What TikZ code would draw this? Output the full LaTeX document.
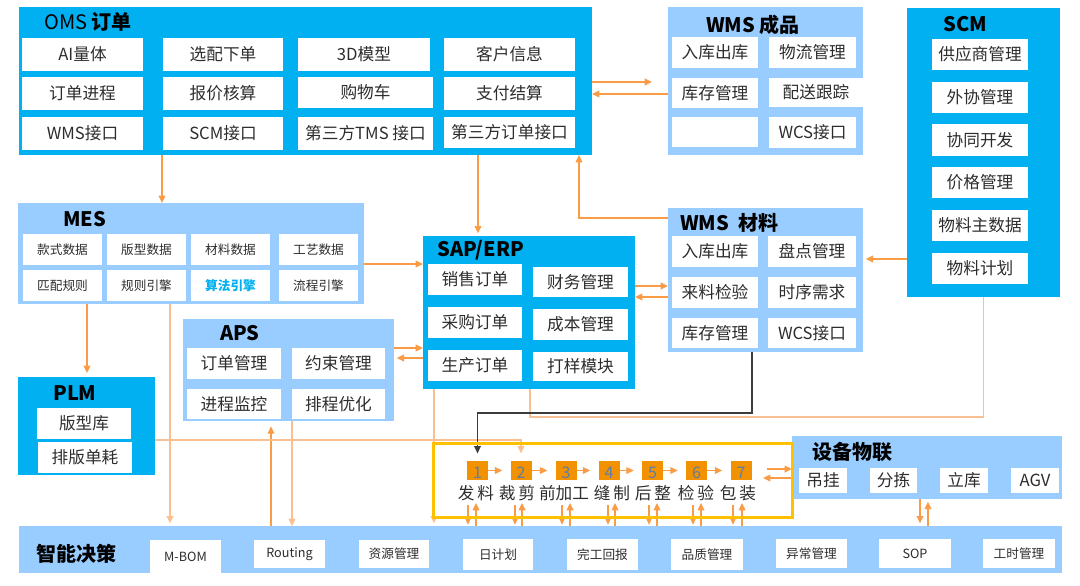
\documentclass[tikz,border=0pt]{standalone}
\usepackage{fontspec}
\setmainfont{Noto Sans CJK SC}
\usetikzlibrary{fit,arrows.meta}
\definecolor{dblue}{RGB}{0,176,240}
\definecolor{lblue}{RGB}{153,204,255}
\definecolor{conn}{RGB}{250,155,70}
\definecolor{connl}{RGB}{251,192,145}
\definecolor{sqc}{RGB}{243,146,0}
\definecolor{ylw}{RGB}{255,192,0}
\definecolor{txt}{RGB}{45,45,45}
\definecolor{numc}{RGB}{95,125,165}
\definecolor{blk}{RGB}{60,60,60}
% cell: #1 name, #2 fit points, #3 text style, #4 text
\newcommand\mkcell[4]{\node[cellbg,fit={#2}] (#1) {};\node[#3] at (#1.center) {#4};}
\begin{document}
\begin{tikzpicture}[x=0.75pt,y=-0.75pt,
  box/.style={inner sep=0pt,outer sep=0pt,draw=none},
  dbox/.style={box,fill=dblue},
  lbox/.style={box,fill=lblue},
  cellbg/.style={box,fill=white},
  ct/.style={inner sep=0pt,text=txt,font=\fontsize{12.5}{14}\selectfont},
  sct/.style={inner sep=0pt,text=txt,font=\fontsize{9.5}{11}\selectfont},
  bct/.style={inner sep=0pt,text=dblue,font=\fontsize{9.5}{11}\selectfont\bfseries},
  ttl/.style={anchor=west,inner sep=0pt,text=black,font=\fontsize{15}{17}\selectfont\bfseries},
  arr/.style={draw=conn,line width=1pt,-{Triangle[length=5.5pt,width=5pt]}},
  arrl/.style={draw=connl,line width=1pt,-{Triangle[length=5.5pt,width=5pt]}},
  lnl/.style={draw=connl,line width=1pt},
  blkarr/.style={draw=blk,line width=1pt,-{Triangle[length=5.5pt,width=5pt]}},
  sqr/.style={fill=sqc,inner sep=0pt,minimum width=15.75pt,minimum height=14.25pt},
  numtxt/.style={inner sep=0pt,text=numc,font=\fontsize{12}{13}\selectfont},
  lbl/.style={inner sep=0pt,text=txt,font=\fontsize{12.5}{14}\selectfont},
]
\useasboundingbox (0,0) rectangle (1080,585);

% ---------- guide coordinates for connectors ----------
\coordinate (g1) at (162,0);
\coordinate (g2) at (478,0);
\coordinate (g3) at (579,218);
\coordinate (g4) at (0,82);
\coordinate (g5) at (0,94);
\coordinate (g6) at (0,264);
\coordinate (g7) at (0,259);
\coordinate (g8) at (0,286);
\coordinate (g9) at (0,297);
\coordinate (g10) at (0,348);
\coordinate (g11) at (0,358);
\coordinate (g12) at (87,0);
\coordinate (g13) at (170,0);
\coordinate (g14) at (271,0);
\coordinate (g15) at (292,0);
\coordinate (g16) at (0,440);
\coordinate (g17) at (434,0);
\coordinate (g18) at (530,417);
\coordinate (g19) at (752,413);
\coordinate (g20) at (920,0);
\coordinate (g21) at (928,0);
\coordinate (g22) at (767,469);
\coordinate (g23) at (763,478);

% ---------- OMS ----------
\node[dbox,fit={(19,7)(592,155)}] (oms) {};
\node[ttl,font=\fontsize{15}{17}\selectfont] at (44,22) {OMS \textbf{订单}};
\mkcell{o11}{(22,38)(143,71)}{ct}{AI量体}
\mkcell{o12}{(163,38)(283,71)}{ct}{选配下单}
\mkcell{o13}{(298,38)(430,71)}{ct}{3D模型}
\mkcell{o14}{(444,38)(575,71)}{ct}{客户信息}
\mkcell{o21}{(22,77)(143,110)}{ct}{订单进程}
\mkcell{o22}{(163,77)(283,110)}{ct}{报价核算}
\mkcell{o23}{(298,77)(433,108)}{ct}{购物车}
\mkcell{o24}{(444,77)(575,110)}{ct}{支付结算}
\mkcell{o31}{(22,117)(143,150)}{ct}{WMS接口}
\mkcell{o32}{(163,117)(283,150)}{ct}{SCM接口}
\mkcell{o33}{(298,117)(433,150)}{ct}{第三方TMS 接口}
\mkcell{o34}{(444,117)(575,148)}{ct}{第三方订单接口}

% ---------- WMS 成品 ----------
\node[lbox,fit={(668,7)(863,155)}] (wmsp) {};
\node[ttl] at (706,25) {WMS 成品};
\mkcell{p11}{(672,37)(758,68)}{ct}{入库出库}
\mkcell{p12}{(769,37)(856,68)}{ct}{物流管理}
\mkcell{p21}{(672,78)(758,108)}{ct}{库存管理}
\mkcell{p22}{(769,78)(863,107)}{ct}{配送跟踪}
\mkcell{p31}{(672,117)(758,147)}{ct}{}
\mkcell{p32}{(769,117)(856,148)}{ct}{WCS接口}

% ---------- SCM ----------
\node[dbox,fit={(907,8)(1060,297)}] (scm) {};
\node[ttl] at (943,24) {SCM};
\mkcell{sc1}{(932,39)(1028,70)}{ct}{供应商管理}
\mkcell{sc2}{(932,82)(1028,113)}{ct}{外协管理}
\mkcell{sc3}{(932,124)(1028,156)}{ct}{协同开发}
\mkcell{sc4}{(932,167)(1028,198)}{ct}{价格管理}
\mkcell{sc5}{(932,210)(1028,241)}{ct}{物料主数据}
\mkcell{sc6}{(932,253)(1028,284)}{ct}{物料计划}

% ---------- MES ----------
\node[lbox,fit={(18,203)(364,304)}] (mes) {};
\node[ttl] at (63,219) {MES};
\mkcell{m11}{(23,234)(102,265)}{sct}{款式数据}
\mkcell{m12}{(107,234)(186,265)}{sct}{版型数据}
\mkcell{m13}{(191,234)(270,265)}{sct}{材料数据}
\mkcell{m14}{(279,234)(358,265)}{sct}{工艺数据}
\mkcell{m21}{(23,270)(102,301)}{sct}{匹配规则}
\mkcell{m22}{(107,270)(186,301)}{sct}{规则引擎}
\mkcell{m23}{(191,270)(270,301)}{bct}{算法引擎}
\mkcell{m24}{(279,270)(358,301)}{sct}{流程引擎}

% ---------- APS ----------
\node[lbox,fit={(183,319)(394,421)}] (aps) {};
\node[ttl] at (220,333) {APS};
\mkcell{a11}{(187,348)(281,379)}{ct}{订单管理}
\mkcell{a12}{(292,348)(385,379)}{ct}{约束管理}
\mkcell{a21}{(187,389)(281,419)}{ct}{进程监控}
\mkcell{a22}{(292,389)(385,419)}{ct}{排程优化}

% ---------- PLM ----------
\node[dbox,fit={(18,377)(155,475)}] (plm) {};
\node[ttl] at (53,393) {PLM};
\mkcell{pl1}{(37,408)(131,439)}{ct}{版型库}
\mkcell{pl2}{(38,442)(132,473)}{ct}{排版单耗}

% ---------- SAP/ERP ----------
\node[dbox,fit={(423,236)(635,389)}] (sap) {};
\node[ttl] at (437,250) {SAP/ERP};
\mkcell{e11}{(428,264)(522,295)}{ct}{销售订单}
\mkcell{e12}{(533,267)(628,297)}{ct}{财务管理}
\mkcell{e21}{(428,307)(522,338)}{ct}{采购订单}
\mkcell{e22}{(533,309)(628,340)}{ct}{成本管理}
\mkcell{e31}{(428,350)(522,381)}{ct}{生产订单}
\mkcell{e32}{(533,352)(628,381)}{ct}{打样模块}

% ---------- WMS 材料 ----------
\node[lbox,fit={(668,208)(863,352)}] (wmsm) {};
\node[ttl] at (680,223) {WMS\ \ 材料};
\mkcell{w11}{(672,236)(758,267)}{ct}{入库出库}
\mkcell{w12}{(768,236)(856,267)}{ct}{盘点管理}
\mkcell{w21}{(672,277)(758,308)}{ct}{来料检验}
\mkcell{w22}{(768,277)(856,308)}{ct}{时序需求}
\mkcell{w31}{(672,318)(758,348)}{ct}{库存管理}
\mkcell{w32}{(768,318)(856,348)}{ct}{WCS接口}

% ---------- 设备物联 ----------
\node[lbox,fit={(792,436)(1062,499)}] (iot) {};
\node[ttl] at (812,452) {设备物联};
\mkcell{i1}{(799,468)(847,493)}{ct}{吊挂}
\mkcell{i2}{(870,468)(917,493)}{ct}{分拣}
\mkcell{i3}{(940,468)(988,493)}{ct}{立库}
\mkcell{i4}{(1011,468)(1059,493)}{ct}{AGV}

% ---------- 智能决策 ----------
\node[lbox,fit={(19,526)(1062,573)}] (zn) {};
\node[ttl,font=\fontsize{15}{17}\selectfont\bfseries] at (36,554) {智能决策};
\mkcell{z1}{(150,540)(221,573)}{sct}{M-BOM}
\mkcell{z2}{(254,540)(325,568)}{sct}{Routing}
\mkcell{z3}{(359,540)(429,568)}{sct}{资源管理}
\mkcell{z4}{(463,539)(533,570)}{sct}{日计划}
\mkcell{z5}{(567,539)(638,570)}{sct}{完工回报}
\mkcell{z6}{(671,539)(743,570)}{sct}{品质管理}
\mkcell{z7}{(776,539)(847,568)}{sct}{异常管理}
\mkcell{z8}{(879,539)(951,568)}{sct}{SOP}
\mkcell{z9}{(983,539)(1055,568)}{sct}{工时管理}

% ---------- production steps ----------
\node[sqr] (s1) at (477.5,470.5) {};
\node[sqr] (s2) at (521,470.5) {};
\node[sqr] (s3) at (566,470.5) {};
\node[sqr] (s4) at (609,470.5) {};
\node[sqr] (s5) at (652.5,470.5) {};
\node[sqr] (s6) at (696.5,470.5) {};
\node[sqr] (s7) at (741,470.5) {};
\foreach \i in {1,...,7} {
  \node[numtxt,anchor=base] at ([yshift=1pt]s\i.south) {\i};
}
\node[lbl] (l1) at (476,493) {发\,料};
\node[lbl] (l2) at (517,493) {裁\,剪};
\node[lbl] (l3) at (564,493) {前加工};
\node[lbl] (l4) at (612,493) {缝\,制};
\node[lbl] (l5) at (653,493) {后\,整};
\node[lbl] (l6) at (696,493) {检\,验};
\node[lbl] (l7) at (738,493) {包\,装};
\foreach \a/\b in {1/2,2/3,3/4,4/5,5/6,6/7} {
  \draw[arr,shorten >=6pt] (s\a.east) -- (s\b.west);
}

% ---------- connectors ----------
\draw[arr] (oms.south -| g1) -- (mes.north -| g1);
\draw[arr,shorten >=2pt] (oms.south -| g2) -- (sap.north -| g2);
\draw[arr] (wmsm.west |- g3) -| (oms.south -| g3);
\draw[arr,shorten >=12pt] (oms.east |- g4) -- (wmsp.west |- g4);
\draw[arr] (wmsp.west |- g5) -- (oms.east |- g5);
\draw[arr] (mes.east |- g6) -- (sap.west |- g6);
\draw[arr,shorten >=2pt] (scm.west |- g7) -- (wmsm.east |- g7);
\draw[arr] (sap.east |- g8) -- (wmsm.west |- g8);
\draw[arr] (wmsm.west |- g9) -- (sap.east |- g9);
\draw[arr] (aps.east |- g10) -- (sap.west |- g10);
\draw[arr,shorten >=2pt] (sap.west |- g11) -- (aps.east |- g11);
\draw[arr,shorten >=3pt] (mes.south -| g12) -- (plm.north -| g12);
\draw[arrl,shorten >=2pt] (mes.south -| g13) -- (zn.north -| g13);
\draw[arr,shorten >=4pt] (zn.north -| g14) -- (aps.south -| g14);
\draw[arrl] (aps.south -| g15) -- (zn.north -| g15);
\draw[arrl,shorten >=5.5pt] (plm.east |- g16) -| (s2.north);
\draw[arrl,shorten >=2pt] (sap.south -| g17) -- (zn.north -| g17);
\draw[lnl] (sap.south -| g18) -- (g18) -| (scm.south);
\draw[blkarr,shorten >=5.5pt] (wmsm.south -| g19) -- (g19) -| (s1.north);
\draw[arr,shorten >=2pt] (iot.south -| g20) -- (zn.north -| g20);
\draw[arr,shorten >=2pt] (zn.north -| g21) -- (iot.south -| g21);
\draw[arr] (g22) -- (iot.west |- g22);
\draw[arr] (iot.west |- g23) -- (g23);

\foreach \d/\u in {468/476,515/522,562/570,608/615,649/657,693/701,733/742} {
  \coordinate (dd) at (\d,505);
  \coordinate (uu) at (\u,503);
  \draw[arr,shorten >=1pt] (dd) -- (zn.north -| dd);
  \draw[arr] (zn.north -| uu) -- (uu);
}

% ---------- production line frame ----------
\node[draw=ylw,line width=2.25pt,inner sep=0pt,fit={(433,443)(792,517)}] (prod) {};

\end{tikzpicture}
\end{document}
